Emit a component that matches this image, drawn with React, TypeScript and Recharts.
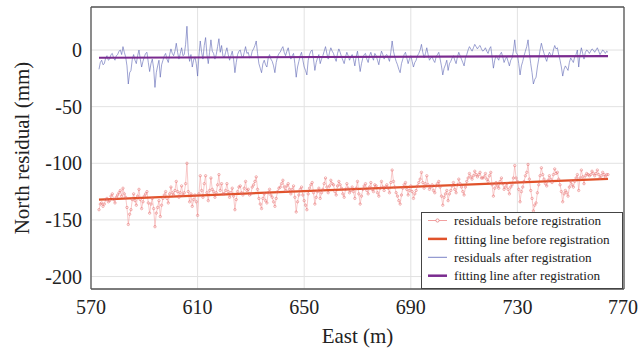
import { LineChart, Line, XAxis, YAxis, CartesianGrid, Legend } from "recharts";

const east = [
  573, 573.5, 574, 574.5, 575, 575.5, 576, 576.5, 577, 577.5, 578, 578.5, 579, 579.5, 580, 580.5, 581, 581.5, 582, 582.5, 583, 583.5, 584, 584.5,
  585, 585.5, 586, 586.5, 587, 587.5, 588, 588.5, 589, 589.5, 590, 590.5, 591, 591.5, 592, 592.5, 593, 593.5, 594, 594.5, 595, 595.5, 596, 596.5,
  597, 597.5, 598, 598.5, 599, 599.5, 600, 600.5, 601, 601.5, 602, 602.5, 603, 603.5, 604, 604.5, 605, 605.5, 606, 606.5, 607, 607.5, 608, 608.5,
  609, 609.5, 610, 610.5, 611, 611.5, 612, 612.5, 613, 613.5, 614, 614.5, 615, 615.5, 616, 616.5, 617, 617.5, 618, 618.5, 619, 619.5, 620, 620.5,
  621, 621.5, 622, 622.5, 623, 623.5, 624, 624.5, 625, 625.5, 626, 626.5, 627, 627.5, 628, 628.5, 629, 629.5, 630, 630.5, 631, 631.5, 632, 632.5,
  633, 633.5, 634, 634.5, 635, 635.5, 636, 636.5, 637, 637.5, 638, 638.5, 639, 639.5, 640, 640.5, 641, 641.5, 642, 642.5, 643, 643.5, 644, 644.5,
  645, 645.5, 646, 646.5, 647, 647.5, 648, 648.5, 649, 649.5, 650, 650.5, 651, 651.5, 652, 652.5, 653, 653.5, 654, 654.5, 655, 655.5, 656, 656.5,
  657, 657.5, 658, 658.5, 659, 659.5, 660, 660.5, 661, 661.5, 662, 662.5, 663, 663.5, 664, 664.5, 665, 665.5, 666, 666.5, 667, 667.5, 668, 668.5,
  669, 669.5, 670, 670.5, 671, 671.5, 672, 672.5, 673, 673.5, 674, 674.5, 675, 675.5, 676, 676.5, 677, 677.5, 678, 678.5, 679, 679.5, 680, 680.5,
  681, 681.5, 682, 682.5, 683, 683.5, 684, 684.5, 685, 685.5, 686, 686.5, 687, 687.5, 688, 688.5, 689, 689.5, 690, 690.5, 691, 691.5, 692, 692.5,
  693, 693.5, 694, 694.5, 695, 695.5, 696, 696.5, 697, 697.5, 698, 698.5, 699, 699.5, 700, 700.5, 701, 701.5, 702, 702.5, 703, 703.5, 704, 704.5,
  705, 705.5, 706, 706.5, 707, 707.5, 708, 708.5, 709, 709.5, 710, 710.5, 711, 711.5, 712, 712.5, 713, 713.5, 714, 714.5, 715, 715.5, 716, 716.5,
  717, 717.5, 718, 718.5, 719, 719.5, 720, 720.5, 721, 721.5, 722, 722.5, 723, 723.5, 724, 724.5, 725, 725.5, 726, 726.5, 727, 727.5, 728, 728.5,
  729, 729.5, 730, 730.5, 731, 731.5, 732, 732.5, 733, 733.5, 734, 734.5, 735, 735.5, 736, 736.5, 737, 737.5, 738, 738.5, 739, 739.5, 740, 740.5,
  741, 741.5, 742, 742.5, 743, 743.5, 744, 744.5, 745, 745.5, 746, 746.5, 747, 747.5, 748, 748.5, 749, 749.5, 750, 750.5, 751, 751.5, 752, 752.5,
  753, 753.5, 754, 754.5, 755, 755.5, 756, 756.5, 757, 757.5, 758, 758.5, 759, 759.5, 760, 760.5, 761, 761.5, 762, 762.5, 763, 763.5, 764,
];

// north residuals before registration (mm)
const beforeReg = [
  -141, -136, -135, -138, -136, -132, -131, -134, -133, -129, -127, -132, -135, -130, -128, -126, -124, -129, -122, -127, -130, -139, -154, -145,
  -141, -132, -127, -133, -137, -129, -123, -132, -140, -134, -129, -127, -125, -135, -144, -136, -131, -140, -156, -144, -139, -133, -147, -137,
  -131, -128, -125, -131, -135, -127, -121, -126, -128, -124, -116, -125, -130, -126, -120, -128, -126, -118, -100, -125, -134, -127, -138, -132,
  -128, -134, -146, -127, -111, -124, -130, -118, -111, -126, -133, -124, -113, -123, -125, -130, -126, -119, -110, -124, -118, -127, -127, -124,
  -118, -125, -130, -126, -122, -129, -141, -132, -125, -121, -120, -126, -128, -122, -116, -124, -123, -128, -127, -121, -119, -116, -112, -123,
  -131, -136, -140, -131, -127, -133, -135, -126, -123, -128, -130, -134, -138, -131, -125, -122, -121, -118, -115, -121, -124, -120, -118, -123,
  -127, -123, -120, -130, -143, -134, -128, -123, -121, -128, -133, -137, -141, -127, -122, -119, -117, -126, -136, -130, -125, -122, -131, -126,
  -123, -118, -113, -121, -126, -120, -115, -118, -119, -125, -128, -120, -116, -119, -122, -127, -130, -123, -118, -122, -126, -124, -121, -125,
  -131, -122, -116, -127, -136, -129, -123, -120, -118, -124, -127, -121, -117, -123, -125, -119, -120, -126, -129, -122, -116, -121, -124, -121,
  -119, -122, -126, -117, -106, -116, -121, -126, -129, -133, -136, -128, -122, -119, -117, -123, -128, -124, -120, -125, -131, -127, -124, -120,
  -117, -114, -108, -117, -122, -118, -111, -119, -123, -121, -119, -124, -126, -120, -118, -116, -121, -129, -137, -130, -127, -124, -133, -127,
  -124, -120, -117, -123, -126, -119, -114, -118, -121, -125, -128, -121, -116, -113, -109, -112, -114, -111, -107, -110, -112, -110, -108, -113,
  -113, -112, -109, -114, -116, -111, -108, -119, -129, -122, -117, -120, -122, -116, -113, -118, -123, -121, -118, -123, -127, -121, -119, -113,
  -102, -113, -116, -123, -134, -125, -121, -116, -111, -108, -101, -114, -124, -131, -142, -137, -135, -126, -119, -111, -104, -110, -114, -118,
  -120, -115, -111, -114, -117, -110, -105, -109, -108, -114, -119, -125, -134, -127, -124, -126, -129, -121, -116, -119, -121, -116, -113, -110,
  -124, -113, -106, -112, -118, -111, -109, -110, -111, -110, -107, -109, -111, -109, -106, -110, -113, -111, -108, -110, -112, -110, -110,
];

// north residuals after registration (mm)
const afterReg = [
  -17, -11, -9, -13, -12, -7, -5, -9, -8, -4, -3, -7, -9, -5, -4, -1, 0, -4, 3, -2, -6, -14, -30, -20,
  -18, -8, -4, -9, -12, -5, 0, -8, -15, -10, -6, -3, -2, -11, -19, -12, -8, -16, -33, -20, -14, -9, -24, -13,
  -9, -5, -3, -8, -11, -4, 1, -3, -5, -1, 6, -2, -8, -3, 2, -5, -4, 5, 21, -2, -10, -4, -15, -9,
  -6, -12, -23, -5, 8, -2, -8, 4, 11, -4, -12, -2, 9, -1, -3, -8, -4, 3, 10, -2, 4, -5, -7, -2,
  2, -4, -9, -5, -1, -8, -20, -11, -4, -1, 0, -5, -7, -2, 3, -3, -2, -7, -6, -1, 1, 4, 8, -3,
  -12, -16, -20, -12, -9, -13, -15, -7, -4, -8, -10, -14, -20, -11, -6, -3, -2, 1, 3, -2, -5, -1, 2, -4,
  -8, -5, -3, -12, -24, -15, -10, -5, -2, -9, -15, -18, -22, -9, -4, -1, 0, -8, -18, -11, -7, -4, -12, -8,
  -5, -1, 3, -3, -8, -2, 2, -1, -3, -7, -10, -3, 1, -2, -6, -9, -12, -6, -2, -5, -9, -6, -4, -8,
  -14, -6, -1, -10, -19, -12, -7, -4, -3, -8, -11, -5, -2, -6, -9, -3, -5, -9, -13, -6, -1, -4, -8, -5,
  -4, -7, -10, -2, 8, -1, -6, -10, -13, -17, -20, -12, -8, -4, -2, -7, -12, -8, -5, -10, -15, -11, -9, -5,
  -3, 0, 5, -2, -7, -3, 2, -4, -9, -7, -6, -9, -11, -6, -4, -2, -8, -14, -22, -16, -13, -9, -18, -12,
  -10, -7, -5, -9, -12, -6, -2, -5, -8, -11, -14, -7, -4, 0, 3, 1, -1, 2, 5, 3, 1, 3, 4, 1,
  -1, 0, 2, -1, -3, 1, 3, -6, -16, -9, -5, -7, -9, -4, -2, -6, -11, -8, -6, -10, -14, -9, -7, -1,
  9, -2, -4, -12, -22, -14, -10, -5, -1, 3, 9, -3, -12, -20, -30, -26, -24, -15, -8, 0, 6, 1, -3, -7,
  -10, -5, -2, -4, -6, 0, 4, 1, 2, -4, -9, -15, -23, -17, -14, -16, -18, -11, -7, -9, -11, -6, -4, 0,
  -15, -4, 2, -3, -8, -2, 0, -1, -3, -1, 1, 0, -2, 0, 2, -1, -4, -2, 0, -1, -3, -1, -2,
];

const fitEast = [573, 764];
const fitBefore = [-132, -113.7];
const fitAfter = [-6.8, -5.4];

const xTicks = [570, 610, 650, 690, 730, 770];
const yTicks = [-200, -150, -100, -50, 0];

const FONT = "Liberation Serif, DejaVu Serif, serif";
const AXIS = "#555";

const beforeData = east.map((x, i) => ({ x, y: beforeReg[i] }));
const afterData = east.map((x, i) => ({ x, y: afterReg[i] }));
const fitBeforeData = fitEast.map((x, i) => ({ x, y: fitBefore[i] }));
const fitAfterData = fitEast.map((x, i) => ({ x, y: fitAfter[i] }));

const legendItems = [
  { label: "residuals before registration", color: "#f2a0a0", width: 1, dot: true },
  { label: "fitting line before registration", color: "#e0522a", width: 2.5, dot: false },
  { label: "residuals after registration", color: "#7b83c6", width: 1, dot: false },
  { label: "fitting line after registration", color: "#7a2b8f", width: 2.5, dot: false },
];

const LegendBox = () => (
  <svg width={202} height={77} style={{ display: "block" }}>
    <rect x={0.5} y={0.5} width={201} height={76} fill="#fff" stroke="#444" />
    {legendItems.map((it, i) => {
      const cy = 8.5 + i * 18.4;
      return (
        <g key={it.label}>
          <line x1={7} x2={26} y1={cy} y2={cy} stroke={it.color} strokeWidth={it.width} />
          {it.dot && <circle cx={16.5} cy={cy} r={1.6} fill="#fff" stroke="#e07070" strokeWidth={0.7} />}
          <text x={33} y={cy} dy="0.35em" fontSize={13.2} style={{ fontFamily: FONT }} fill="#222">
            {it.label}
          </text>
        </g>
      );
    })}
  </svg>
);

const YLabel = ({ viewBox }: any) => {
  const cx = viewBox.x + 29;
  const cy = viewBox.y + viewBox.height / 2;
  return (
    <text x={cx} y={cy} transform={`rotate(-90, ${cx}, ${cy})`} textAnchor="middle"
      fontSize={21} style={{ fontFamily: FONT }} fill="#222">
      North residual (mm)
    </text>
  );
};

const XLabel = ({ viewBox }: any) => (
  <text x={viewBox.x + viewBox.width / 2} y={viewBox.y + 54} textAnchor="middle"
    fontSize={21} style={{ fontFamily: FONT }} fill="#222">
    East (m)
  </text>
);

export default function App() {
  const tickStyle = { fontSize: 20, fill: "#222", style: { fontFamily: FONT } };
  return (
    <div style={{ position: "absolute", left: 0, top: 0, fontFamily: FONT }}>
      <LineChart width={638} height={353} margin={{ top: 7, right: 14, bottom: 0, left: 0 }}>
        <CartesianGrid stroke="#e2e2e2" />
        <XAxis dataKey="x" type="number" domain={[570, 770]} ticks={xTicks} allowDataOverflow
          tick={tickStyle} tickLine={false} tickSize={0} tickMargin={11} height={64}
          axisLine={{ stroke: AXIS, strokeWidth: 1.3 }} label={<XLabel />} />
        <XAxis xAxisId="b2" type="number" domain={[570, 770]} ticks={xTicks} allowDataOverflow
          mirror tick={false} tickSize={4} tickLine={{ stroke: AXIS }} axisLine={false} height={4} />
        <XAxis xAxisId="top" orientation="top" type="number" domain={[570, 770]} ticks={xTicks}
          allowDataOverflow mirror tick={false} tickSize={4} tickLine={{ stroke: AXIS }}
          axisLine={{ stroke: AXIS, strokeWidth: 1.3 }} height={4} />
        <YAxis type="number" domain={[-211, 38]} ticks={yTicks} allowDataOverflow width={91}
          tick={tickStyle} tickLine={false} tickSize={0} tickMargin={9}
          axisLine={{ stroke: AXIS, strokeWidth: 1.3 }} label={<YLabel />} />
        <YAxis yAxisId="l2" type="number" domain={[-211, 38]} ticks={yTicks} allowDataOverflow
          mirror tick={false} tickSize={4} tickLine={{ stroke: AXIS }} axisLine={false} width={4} />
        <YAxis yAxisId="right" orientation="right" type="number" domain={[-211, 38]} ticks={yTicks}
          allowDataOverflow mirror tick={false} tickSize={4} tickLine={{ stroke: AXIS }}
          axisLine={{ stroke: AXIS, strokeWidth: 1.3 }} width={4} />
        <Line data={beforeData} dataKey="y" type="linear" stroke="#f3a4a4" strokeWidth={0.6}
          dot={{ r: 1.2, fill: "none", stroke: "#e46a6a", strokeWidth: 0.5 }}
          isAnimationActive={false} />
        <Line data={fitBeforeData} dataKey="y" type="linear" stroke="#e0522a" strokeWidth={2.2}
          dot={false} isAnimationActive={false} />
        <Line data={afterData} dataKey="y" type="linear" stroke="#5c64b4" strokeWidth={0.6}
          dot={false} isAnimationActive={false} />
        <Line data={fitAfterData} dataKey="y" type="linear" stroke="#7a2b8f" strokeWidth={2.2}
          dot={false} isAnimationActive={false} />
        <Legend layout="vertical" align="center" verticalAlign="middle" content={<LegendBox />}
          wrapperStyle={{ left: 421, top: 212, width: 202, height: 77 }} />
      </LineChart>
    </div>
  );
}
